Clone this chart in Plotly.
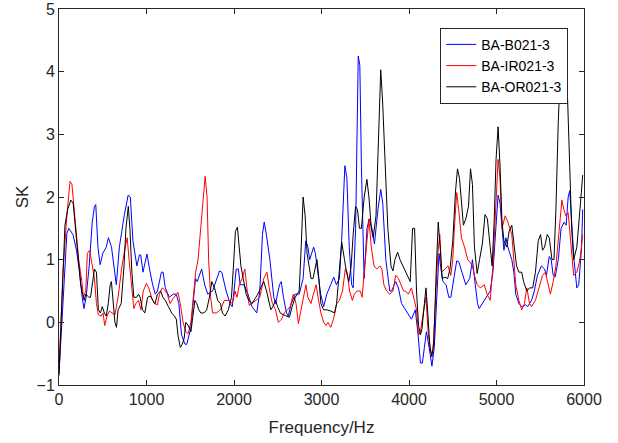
import plotly.graph_objects as go

# ---- data ----
freq_b = [0, 90, 112, 160, 200, 235, 265, 285, 310, 345, 380, 405, 420, 445, 470, 500, 540, 565, 600, 635,
          655, 690, 720, 745, 790, 815, 845, 875, 890, 920, 935, 960, 1005, 1035, 1070, 1100, 1125, 1170, 1190, 1215,
          1260, 1305, 1340, 1370, 1400, 1440, 1460, 1505, 1535, 1560, 1580, 1630, 1665, 1700, 1755, 1800, 1835, 1860, 1910, 1955,
          1980, 2000, 2025, 2050, 2070, 2115, 2160, 2205, 2260, 2295, 2325, 2345, 2370, 2410, 2455, 2475, 2520, 2540, 2565, 2600,
          2620, 2655, 2700, 2745, 2790, 2820, 2845, 2865, 2895, 2910, 2930, 2960, 2990, 3025, 3060, 3105, 3140, 3170, 3205, 3230,
          3267, 3290, 3317, 3344, 3362, 3390, 3420, 3438, 3456, 3487, 3520, 3545, 3577, 3605, 3645, 3677, 3700, 3735, 3780, 3800,
          3848, 3879, 3915, 3983, 4028, 4072, 4104, 4131, 4153, 4176, 4199, 4230, 4262, 4289, 4320, 4343, 4365, 4388, 4424, 4455,
          4478, 4509, 4545, 4568, 4613, 4649, 4694, 4725, 4757, 4784, 4802, 4838, 4883, 4928, 4959, 4995, 5018, 5040, 5072, 5085,
          5108, 5130, 5175, 5198, 5220, 5256, 5288, 5333, 5355, 5400, 5432, 5468, 5513, 5549, 5571, 5603, 5625, 5648, 5670, 5706,
          5738, 5774, 5796, 5819, 5837, 5859, 5886, 5918, 5940, 5972, 5985]
sk_b = [-0.82, 1.42, 1.5, 1.4, 1.15, 0.8, 0.4, 0.22, 0.4, 0.9, 1.6, 1.85, 1.88, 1.2, 0.92, 1.1, 1.2, 1.35, 1.2, 0.8,
        0.6, 1.2, 1.5, 1.7, 2.03, 2.0, 1.3, 1.0, 0.9, 1.08, 1.07, 0.8, 1.09, 0.85, 0.6, 0.45, 0.5, 0.8, 0.8, 0.55,
        0.4, 0.45, 0.45, 0.3, -0.2, -0.35, -0.35, -0.1, 0.3, 0.7, 0.65, 0.85, 0.6, 0.45, 0.5, 0.7, 0.82, 0.8, 0.5, 0.3,
        0.25, 0.5, 0.85, 0.85, 0.6, 0.6, 0.45, 0.25, 0.15, 0.5, 1.4, 1.6, 1.4, 1.0, 0.4, 0.3, 0.6, 0.65, 0.4, 0.15,
        0.1, 0.3, 0.45, 0.45, 0.7, 1.3, 1.2, 1.0, 1.15, 1.2, 1.1, 0.8, 0.45, 0.25, 0.45, 0.6, 0.72, 0.6, 0.7, 1.3,
        2.5, 2.3, 1.2, 0.6, 0.55, 1.5, 4.25, 4.1, 2.5, 0.7, 1.5, 1.65, 1.5, 1.25, 1.8, 2.12, 1.9, 1.0, 0.5, 0.5,
        0.65, 0.55, 0.3, 0.15, 0.05, 0.2, -0.2, -0.65, -0.65, -0.4, -0.15, -0.4, -0.7, -0.4, 0.4, 1.1, 0.85, 0.65, 0.6, 0.4,
        0.4, 0.7, 0.98, 0.97, 0.75, 0.6, 0.7, 1.0, 0.6, 0.3, 0.22, 0.3, 0.4, 0.5, 0.8, 1.6, 2.03, 1.9, 1.4, 1.15,
        1.35, 1.2, 1.0, 0.8, 0.45, 0.3, 0.25, 0.28, 0.25, 0.35, 0.5, 0.75, 0.9, 0.85, 0.75, 1.05, 1.0, 0.75, 0.72, 1.0,
        1.5, 1.6, 1.55, 2.0, 2.1, 1.6, 1.0, 0.55, 0.6, 1.2, 1.8]

freq_ir = [0, 45, 90, 126, 148, 180, 225, 261, 279, 306, 324, 351, 382, 405, 428, 450, 482, 504, 522, 549,
           576, 608, 639, 675, 720, 756, 779, 801, 833, 855, 878, 909, 936, 963, 999, 1026, 1058, 1089, 1125, 1148,
           1179, 1206, 1238, 1269, 1305, 1337, 1359, 1386, 1418, 1449, 1476, 1508, 1530, 1562, 1589, 1620, 1643, 1670, 1692, 1710,
           1733, 1755, 1800, 1845, 1890, 1935, 1980, 2012, 2034, 2061, 2093, 2124, 2151, 2174, 2205, 2250, 2295, 2340, 2376, 2408,
           2439, 2475, 2507, 2543, 2574, 2610, 2642, 2678, 2709, 2736, 2768, 2799, 2822, 2844, 2880, 2907, 2939, 2961, 2993, 3024,
           3051, 3074, 3105, 3137, 3173, 3204, 3240, 3272, 3294, 3321, 3353, 3375, 3407, 3443, 3465, 3488, 3519, 3542, 3569, 3600,
           3632, 3668, 3690, 3713, 3744, 3780, 3816, 3848, 3879, 3906, 3938, 3960, 3992, 4028, 4050, 4086, 4109, 4131, 4163, 4194,
           4221, 4253, 4275, 4302, 4329, 4352, 4374, 4410, 4446, 4478, 4500, 4523, 4545, 4568, 4599, 4635, 4671, 4703, 4725, 4748,
           4779, 4815, 4860, 4892, 4928, 4959, 4986, 5018, 5040, 5063, 5099, 5130, 5175, 5198, 5220, 5256, 5288, 5319, 5346, 5378,
           5400, 5445, 5490, 5526, 5558, 5589, 5616, 5648, 5679, 5715, 5747, 5769, 5792, 5819, 5850, 5882, 5918, 5954, 5985]
sk_ir = [-0.75, 0.8, 1.7, 2.25, 2.2, 1.7, 1.0, 0.65, 0.4, 0.5, 1.1, 1.15, 0.9, 0.7, 0.3, 0.12, 0.1, 0.15, -0.05, 0.1,
         0.18, 0.15, 0.12, 0.4, 0.9, 1.2, 1.35, 1.0, 0.5, 0.22, 0.3, 0.35, 0.2, 0.5, 0.62, 0.55, 0.4, 0.3, 0.28, 0.45,
         0.55, 0.52, 0.45, 0.3, 0.38, 0.45, 0.48, 0.3, 0.0, -0.15, -0.18, 0.0, 0.3, 0.8, 1.0, 1.5, 2.0, 2.33, 2.0, 1.0,
         0.4, 0.15, 0.15, 0.2, 0.35, 0.35, 0.3, 0.5, 0.4, 0.6, 0.7, 0.85, 0.5, 0.27, 0.3, 0.35, 0.4, 0.7, 0.8, 0.5,
         0.3, 0.2, 0.0, 0.05, 0.15, 0.2, 0.25, 0.45, 0.3, -0.02, 0.2, 0.4, 0.6, 0.4, 0.3, 0.45, 0.6, 0.4, 0.15, 0.0,
         -0.05, 0.0, -0.08, 0.05, 0.3, 0.35, 0.5, 0.85, 0.8, 0.5, 0.35, 0.45, 0.5, 0.5, 0.4, 0.8, 1.3, 1.65, 1.2, 0.9,
         0.85, 0.9, 0.85, 0.6, 0.5, 0.45, 0.5, 0.75, 0.7, 0.6, 0.5, 0.5, 0.45, 0.55, 0.4, 0.2, -0.2, -0.15, 0.15, 0.4,
         -0.2, -0.5, -0.45, 0.3, 1.1, 1.4, 0.8, 0.85, 0.9, 0.75, 1.0, 1.6, 2.07, 1.8, 1.35, 1.2, 1.0, 0.95, 0.9, 0.75,
         0.6, 0.55, 0.6, 0.45, 0.35, 0.9, 1.8, 2.6, 2.3, 1.5, 1.7, 1.6, 1.4, 1.0, 0.6, 0.35, 0.2, 0.3, 0.55, 0.3,
         0.25, 0.35, 0.55, 0.75, 0.8, 0.6, 0.45, 0.65, 0.9, 1.45, 1.95, 1.8, 1.7, 1.75, 1.2, 0.75, 0.8, 1.0, 1.4]

freq_or = [0, 36, 68, 99, 135, 162, 189, 216, 248, 270, 288, 306, 324, 342, 360, 387, 405, 428, 450, 473,
           495, 518, 540, 563, 585, 599, 621, 639, 657, 675, 711, 743, 765, 792, 810, 833, 855, 887, 909, 927,
           954, 981, 1013, 1044, 1071, 1098, 1125, 1161, 1188, 1215, 1251, 1287, 1319, 1341, 1359, 1386, 1409, 1431, 1449, 1476,
           1508, 1530, 1553, 1575, 1598, 1620, 1656, 1688, 1719, 1746, 1778, 1814, 1845, 1868, 1899, 1935, 1971, 1994, 2016, 2039,
           2061, 2079, 2106, 2138, 2169, 2205, 2241, 2273, 2304, 2340, 2372, 2399, 2421, 2444, 2475, 2498, 2529, 2565, 2601, 2633,
           2664, 2700, 2723, 2745, 2768, 2790, 2813, 2835, 2858, 2880, 2903, 2925, 2948, 2970, 2993, 3024, 3060, 3105, 3150, 3173,
           3204, 3231, 3263, 3285, 3312, 3339, 3362, 3389, 3411, 3434, 3456, 3488, 3519, 3542, 3569, 3591, 3623, 3654, 3677, 3699,
           3726, 3758, 3794, 3816, 3839, 3870, 3897, 3929, 3960, 3992, 4014, 4041, 4064, 4086, 4109, 4131, 4149, 4176, 4194, 4217,
           4239, 4262, 4284, 4311, 4334, 4356, 4379, 4410, 4442, 4469, 4500, 4532, 4554, 4577, 4599, 4622, 4649, 4680, 4703, 4725,
           4748, 4779, 4806, 4838, 4869, 4896, 4928, 4950, 4973, 4995, 5018, 5040, 5063, 5085, 5117, 5144, 5175, 5198, 5229, 5256,
           5288, 5310, 5346, 5378, 5414, 5445, 5477, 5504, 5526, 5549, 5580, 5603, 5634, 5657, 5679, 5706, 5729, 5750, 5787, 5814,
           5837, 5859, 5882, 5918, 5954, 5985]
sk_or = [-0.85, 0.5, 1.55, 1.8, 1.95, 1.9, 1.5, 1.0, 0.6, 0.45, 0.35, 0.45, 0.42, 0.4, 0.4, 0.7, 0.85, 0.8, 0.2, 0.15,
         0.25, 0.15, 0.1, 0.3, 0.6, 0.65, 0.3, 0.0, -0.08, 0.2, 0.3, 0.9, 1.5, 1.85, 1.5, 0.8, 0.4, 0.4, 0.45, 0.4,
         0.2, 0.15, 0.4, 0.42, 0.35, 0.3, 0.45, 0.5, 0.4, 0.35, 0.25, 0.15, 0.1, 0.05, -0.2, -0.4, -0.35, -0.25, 0.0, -0.05,
         -0.15, 0.1, 0.35, 0.3, 0.2, 0.15, 0.15, 0.2, 0.4, 0.65, 0.55, 0.35, 0.3, 0.15, 0.1, 0.2, 0.4, 0.9, 1.45, 1.52,
         1.2, 0.9, 0.7, 0.45, 0.35, 0.3, 0.38, 0.45, 0.55, 0.65, 0.5, 0.3, 0.2, 0.25, 0.35, 0.25, 0.15, 0.12, 0.1, 0.08,
         0.25, 0.4, 0.45, 0.5, 1.2, 2.0, 1.7, 1.1, 0.9, 0.7, 0.7, 0.85, 1.0, 0.7, 0.3, 0.2, 0.2, 0.18, 0.15, 0.3,
         0.8, 1.28, 1.0, 0.8, 0.65, 0.9, 1.4, 1.85, 1.8, 1.5, 1.5, 2.0, 2.28, 2.0, 1.5, 1.35, 1.7, 3.0, 4.03, 3.5,
         2.5, 1.5, 0.9, 0.82, 1.0, 1.12, 1.0, 0.9, 0.8, 0.7, 0.65, 1.5, 1.5, 0.5, -0.05, -0.2, -0.1, 0.3, 0.55, 0.1,
         -0.4, -0.55, -0.3, 0.8, 1.6, 1.2, 0.7, 0.72, 0.7, 0.85, 1.3, 2.1, 2.45, 2.3, 1.9, 1.55, 1.65, 1.85, 2.45, 2.2,
         1.2, 0.78, 1.0, 1.25, 1.72, 1.65, 1.2, 0.9, 1.6, 2.6, 3.12, 2.5, 1.6, 1.3, 1.2, 1.45, 1.55, 1.3, 0.9, 0.8,
         0.8, 0.65, 0.5, 0.55, 0.55, 0.8, 1.3, 1.4, 1.15, 1.2, 1.4, 1.35, 1.0, 1.0, 1.8, 3.2, 4.0, 4.3, 4.3, 3.5,
         2.5, 1.5, 1.0, 1.2, 1.8, 2.35]

series_names = ["BA-B021-3", "BA-IR021-3", "BA-OR021-3"]
series_colors = ["#0000FF", "#FF0000", "#000000"]
x_ticks = [0, 1000, 2000, 3000, 4000, 5000, 6000]
y_ticks = [-1, 0, 1, 2, 3, 4, 5]

AX = "#262626"
FONT = "Liberation Sans, Arial, sans-serif"

fig = go.Figure()
for xs, ys, name, col in zip([freq_b, freq_ir, freq_or], [sk_b, sk_ir, sk_or], series_names, series_colors):
    fig.add_trace(go.Scatter(x=xs, y=ys, mode="lines", name=name,
                             line=dict(color=col, width=1)))

axis_common = dict(showline=True, linecolor=AX, linewidth=1, mirror="ticks",
                   ticks="inside", ticklen=5, tickcolor=AX, tickwidth=1,
                   showgrid=False, zeroline=False, automargin=False,
                   tickfont=dict(family=FONT, size=16, color=AX))

fig.update_xaxes(range=[0, 6000], tickvals=x_ticks,
                 title=dict(text="Frequency/Hz", font=dict(family=FONT, size=17, color=AX), standoff=13),
                 **axis_common)
fig.update_yaxes(range=[-1, 5], tickvals=y_ticks,
                 title=dict(text="SK", font=dict(family=FONT, size=17, color=AX), standoff=3),
                 **axis_common)

fig.update_layout(
    width=618, height=443,
    margin=dict(l=59, r=34, t=9, b=58),
    paper_bgcolor="white", plot_bgcolor="white",
    font=dict(family=FONT, color=AX),
    showlegend=True,
    legend=dict(x=0.97, y=0.95, xanchor="right", yanchor="top",
                bgcolor="white", bordercolor=AX, borderwidth=1,
                font=dict(family=FONT, size=14, color="#000000"),
                tracegroupgap=0, itemwidth=30),
)

fig.write_html("out.html", config={"displayModeBar": False},
               post_script="document.body.style.margin='0px';")
